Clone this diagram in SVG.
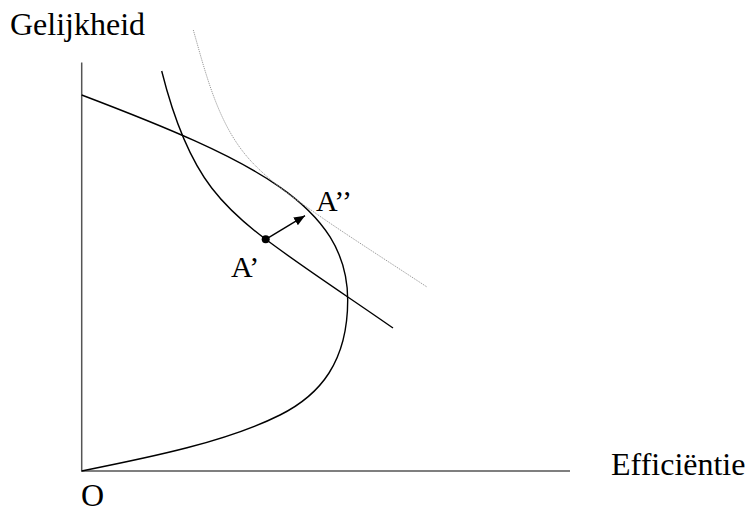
<svg xmlns="http://www.w3.org/2000/svg" width="750" height="513" viewBox="0 0 750 513">
<style>
  .lbl { font-family: "Liberation Serif", "Times New Roman", serif; font-size: 32px; fill: #000; }
  .pt { font-family: "Liberation Serif", "Times New Roman", serif; font-size: 30px; fill: #000; }
  .axis { stroke: #555; stroke-width: 1.5; fill: none; }
  .curve { stroke: #000; stroke-width: 1.4; fill: none; }
  .dotted { stroke: #999; stroke-width: 1; fill: none; stroke-dasharray: 1.2 1; }
</style>
<defs>
  <marker id="ah" markerUnits="userSpaceOnUse" markerWidth="12" markerHeight="10" refX="11" refY="4.5" orient="auto">
    <path d="M0,0 L11,4.5 L0,9 Z" fill="#000"/>
  </marker>
</defs>
<rect width="750" height="513" fill="#fff"/>
<g id="axes">
  <line class="axis" x1="81.7" y1="62.5" x2="81.7" y2="471"/>
  <line class="axis" x1="81" y1="471" x2="570" y2="471"/>
</g>
<g id="frontier">
  <path class="curve" d="M81.7,95 C251.7,159.6 347.7,205 347.7,300 C347.7,362 320,395 280,415 C226.4,441.8 151.7,457 81.7,471"/>
</g>
<g id="ic1">
  <path class="curve" d="M161.7,71 C171.9,111.7 186.1,154.7 211.7,188 C226.9,207.8 245.7,224.3 265.7,239.3 C305.7,269.3 352,299.3 393,328"/>
</g>
<g id="ic2">
  <path class="dotted" d="M193.3,30 C206.2,75.2 218.4,125.2 250,160 C268.8,180.7 293.8,198 316.7,214 C347,235.2 390,262.6 427,287"/>
</g>
<g id="connectors">
  <line x1="265.7" y1="239.3" x2="305" y2="215.7" stroke="#000" stroke-width="1.4" marker-end="url(#ah)"/>
</g>
<g id="pointA1">
  <circle cx="265.7" cy="239.3" r="4" fill="#000"/>
  <text class="pt" x="231" y="276.5">A’</text>
</g>
<g id="pointA2">
  <text class="pt" x="316" y="211">A’’</text>
</g>
<g id="labels">
  <text class="lbl" x="10" y="35">Gelijkheid</text>
  <text class="lbl" x="611" y="475">Efficiëntie</text>
  <text class="lbl" x="81" y="506">O</text>
</g>
</svg>
